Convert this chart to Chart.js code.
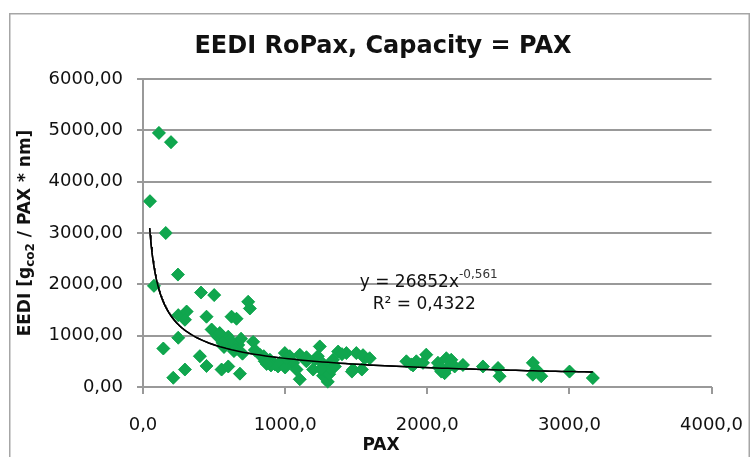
<!DOCTYPE html>
<html>
<head>
<meta charset="utf-8">
<script src="https://cdn.jsdelivr.net/npm/chart.js@4.4.1/dist/chart.umd.min.js"></script>
<style>
  html, body { margin: 0; padding: 0; background: #fff; }
  #wrap { width: 751px; height: 457px; }
</style>
</head>
<body>
<div id="wrap"><canvas id="chart" width="751" height="457"></canvas></div>
<script>
// Data (PAX, EEDI)
var pax = [49, 112, 197, 160, 77, 246, 143, 248, 213, 295,
  408, 501, 248, 307, 295, 447, 623, 658, 740, 752,
  483, 400, 447, 553, 600, 682, 670, 520, 550, 580,
  600, 630, 570, 650, 690, 700, 775, 787, 822, 857,
  893, 928, 963, 998, 1033, 1056, 1080, 1103, 1103, 1244,
  1209, 1197, 1291, 1267, 1300, 1337, 1373, 1431, 1478, 1501,
  1560, 1548, 1595, 1853, 1888, 1923, 1993, 1970, 2075, 2099,
  2134, 2169, 2193, 2251, 2122, 2392, 2498, 2509, 2743, 2767,
  2802, 2743, 3001, 3165, 850, 900, 950, 1000, 1010, 870,
  1150, 1230, 1260, 1280, 1310, 1320, 1350, 1250, 1540, 1470,
  1900, 2080, 2160, 2100, 540, 610, 640, 560, 1150, 1400];
var eedi = [3620, 4950, 4770, 3000, 1970, 2190, 750, 960, 180, 340,
  1840, 1790, 1400, 1470, 1310, 1370, 1370, 1330, 1660, 1530,
  1120, 600, 410, 340, 400, 260, 820, 1000, 950, 900,
  980, 850, 780, 730, 940, 650, 880, 720, 630, 500,
  530, 440, 470, 660, 600, 470, 340, 630, 150, 790,
  530, 340, 400, 220, 100, 530, 690, 660, 340, 660,
  560, 620, 560, 500, 440, 500, 630, 470, 470, 300,
  560, 530, 400, 430, 270, 400, 370, 210, 470, 340,
  210, 240, 300, 175, 600, 420, 400, 380, 550, 450,
  500, 600, 470, 300, 250, 350, 400, 350, 340, 300,
  420, 380, 420, 360, 1050, 920, 700, 860, 580, 640];

// Power trendline shown in the chart: y = 26852 x^-0.561
var trendA = 26852;
var trendB = -0.561;
var trendX = [];
for (var t = 47; t <= 3165; t += (t < 300 ? 4 : 40)) trendX.push(t);
trendX.push(3165);

var xTicks = [0, 1000, 2000, 3000, 4000];
var yTicks = [0, 1000, 2000, 3000, 4000, 5000, 6000];

var green = '#10A64E';
var lineGray = '#999999';
var fontName = 'DejaVu Sans';

var points = pax.map(function (x, i) { return { x: x, y: eedi[i] }; });
var trendPts = trendX.map(function (x) { return { x: x, y: trendA * Math.pow(x, trendB) }; });

// gridlines + tick stubs as thin filled rects
function drawGrid(chart) {
  var c = chart.ctx, a = chart.chartArea;
  var xs = chart.scales.x, ys = chart.scales.y;
  c.save();
  c.fillStyle = 'rgb(153,153,153)';
  yTicks.forEach(function (v) {
    var py = Math.round(ys.getPixelForValue(v));
    c.fillRect(a.left - 6, py - 1, a.right - a.left + 6, 2);
  });
  xTicks.forEach(function (v) {
    var px = Math.round(xs.getPixelForValue(v));
    c.fillRect(px - 1, a.bottom, 2, 7);
  });
  c.fillRect(Math.round(a.left) - 1, a.top - 1, 2, a.bottom - a.top + 2);
  c.restore();
}

var decor = {
  id: 'decor',
  beforeDraw: function (chart) {
    var c = chart.ctx;
    c.save();
    c.fillStyle = '#fff';
    c.fillRect(0, 0, chart.width, chart.height);
    c.fillStyle = '#a6a6a6';
    c.fillRect(9, 13, 741, 1.5);
    c.fillRect(9, 13, 1.5, 444);
    c.fillRect(748.5, 13, 1.5, 444);
    c.restore();
  },
  afterDraw: function (chart) {
    var c = chart.ctx;
    var xs = chart.scales.x, ys = chart.scales.y;
    var area = chart.chartArea;

    // grid, then the library's own elements again on top of it
    drawGrid(chart);
    c.save();
    chart.getDatasetMeta(1).data.forEach(function (el) { el.draw(c, area); });
    chart.getDatasetMeta(0).dataset.draw(c, area);
    c.restore();

    c.save();
    c.fillStyle = '#111';
    c.textBaseline = 'middle';

    c.font = 'bold 24px "' + fontName + '"';
    c.textAlign = 'center';
    c.fillText('EEDI RoPax, Capacity = PAX', 383, 47);

    c.font = 'bold 17px "' + fontName + '"';
    c.fillText('PAX', 381, 446);

    var parts = [['EEDI [g', 'bold 17px', 0], ['co2', 'bold 12px', 5], [' / PAX * nm]', 'bold 17px', 0]];
    var total = 0;
    parts.forEach(function (p) { c.font = p[1] + ' "' + fontName + '"'; total += c.measureText(p[0]).width; });
    c.translate(26, (area.top + area.bottom) / 2);
    c.rotate(-Math.PI / 2);
    c.textAlign = 'left';
    var pos = -total / 2;
    parts.forEach(function (p) {
      c.font = p[1] + ' "' + fontName + '"';
      c.fillText(p[0], pos, p[2]);
      pos += c.measureText(p[0]).width;
    });
    c.setTransform(1, 0, 0, 1, 0, 0);

    var ex = xs.getPixelForValue(1525), ey = ys.getPixelForValue(2030);
    c.textAlign = 'left';
    c.font = '17px "' + fontName + '"';
    var eq = 'y = 26852x';
    c.fillText(eq, ex, ey);
    var w = c.measureText(eq).width;
    c.font = '12px "' + fontName + '"';
    c.fillStyle = '#333';
    c.fillText('-0,561', ex + w, ey - 8);
    c.fillStyle = '#111';
    c.font = '17px "' + fontName + '"';
    c.fillText('R\u00B2 = 0,4322', ex + 13, ys.getPixelForValue(1600));
    c.restore();
  }
};

new Chart(document.getElementById('chart'), {
  type: 'scatter',
  data: {
    datasets: [
      { label: 'trend', data: trendPts, showLine: true, borderColor: '#000', borderWidth: 1.5, pointRadius: 0, order: 0 },
      { label: 'EEDI', data: points, pointStyle: 'rectRot', pointRadius: 6.5,
        pointBackgroundColor: green, pointBorderColor: green, pointBorderWidth: 0.5, order: 1 }
    ]
  },
  options: {
    responsive: false,
    animation: false,
    layout: { padding: { top: 79, right: 39, left: 0, bottom: 0 } },
    plugins: { legend: { display: false }, tooltip: { enabled: false } },
    scales: {
      x: {
        type: 'linear', min: 0, max: 4000,
        afterFit: function (s) { s.height = 70; },
        afterBuildTicks: function (s) { s.ticks = xTicks.map(function (v) { return { value: v }; }); },
        ticks: { padding: 8, color: '#111', font: { family: fontName, size: 18 },
          callback: function (v) { return v.toFixed(1).replace('.', ','); } },
        grid: { display: false, drawTicks: true, tickLength: 20 },
        border: { display: true, color: lineGray, width: 2 }
      },
      y: {
        type: 'linear', min: 0, max: 6000,
        afterFit: function (s) { s.width = 143; },
        afterBuildTicks: function (s) { s.ticks = yTicks.map(function (v) { return { value: v }; }); },
        ticks: { padding: 20, color: '#111', font: { family: fontName, size: 18 },
          callback: function (v) { return v.toFixed(2).replace('.', ','); } },
        grid: { display: false, drawTicks: false },
        border: { display: false }
      }
    }
  },
  plugins: [decor]
});
</script>
</body>
</html>
